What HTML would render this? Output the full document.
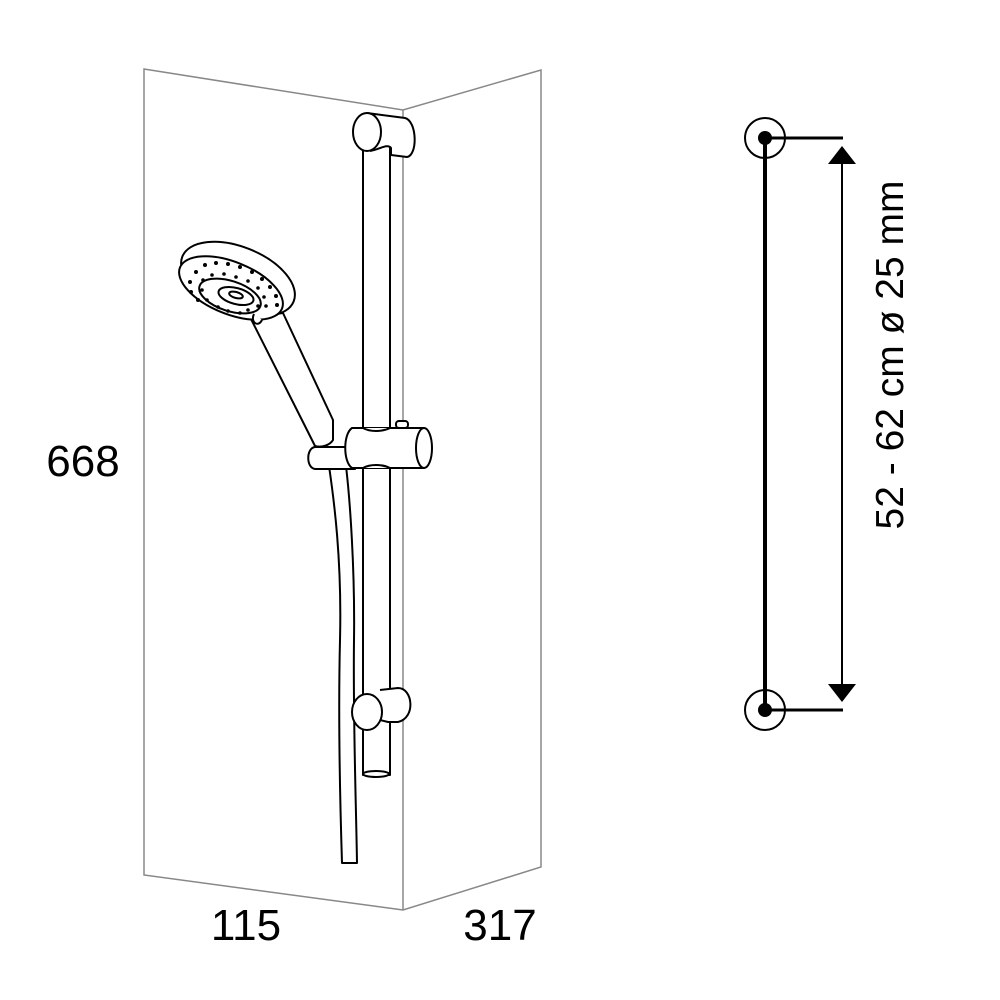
<!DOCTYPE html>
<html><head><style>html,body{margin:0;padding:0;background:#fff}svg{display:block}</style></head>
<body>
<svg width="1000" height="1000" viewBox="0 0 1000 1000" xmlns="http://www.w3.org/2000/svg">
<g fill="none" stroke="#888" stroke-width="1.5">
<path d="M144 69 L144 875 L403 910 L541 867 L541 70 L403 110 Z"/>
<path d="M403 110 L403 910"/>
</g>
<g fill="#fff" stroke="#000" stroke-width="2" stroke-linejoin="round">
<!-- hose -->
<path d="M329 466 C334 500 342 560 340 640 C338 720 340 800 342 863 L357 863 C356 800 353 720 354 640 C355 570 350 500 346 466" />
<!-- rail -->
<rect x="363" y="145" width="27" height="630" />
<ellipse cx="376" cy="774" rx="13" ry="3"/>
<!-- top bracket -->
<path d="M367 113 L405 118 C417 121 418 155 407 157 L391 155 L391 148 C388 143 378 150 370 151"/>
<ellipse cx="367" cy="132" rx="14" ry="19"/>
<!-- bottom bracket -->
<path d="M380 690 L398 688 C413 688 416 718 398 722 L388 722 L380 720"/>
<ellipse cx="367" cy="712" rx="15" ry="18"/>
<!-- slider -->
<path d="M315 447 C306 448 306 468 315 469 L355 469 L355 447 Z"/>
<path d="M352 428 L424 428 L424 468 L352 468 C343 462 343 434 352 428 Z"/>
<ellipse cx="424" cy="448" rx="8" ry="20"/>
<rect x="396" y="421" width="12" height="7" rx="3"/>
<path d="M363 428 C370 432 382 432 390 428" />
<path d="M363 468 C370 464 382 464 390 468" />
<!-- handle -->
<path d="M250 317 L307 430 C315 437 330 432 333 420 L283 313 Z"/>
<path d="M307 430 L315 446 C322 448 330 445 333 440 L333 420"/>
<!-- head -->
<ellipse cx="238" cy="279" rx="60" ry="32" transform="rotate(22 238 279)"/>
<ellipse cx="231" cy="288" rx="55" ry="26" transform="rotate(22 231 288)"/>
<ellipse cx="230" cy="296" rx="32" ry="15" transform="rotate(18 230 296)"/>
<ellipse cx="236" cy="296" rx="18" ry="8" transform="rotate(15 236 296)"/>
<ellipse cx="236" cy="295" rx="7" ry="3" transform="rotate(15 236 295)"/>
<path d="M254 314 C250 322 258 328 262 320"/>
</g>
<g fill="#000">
<circle cx="196" cy="272" r="2"/><circle cx="205" cy="265" r="2"/><circle cx="216" cy="263" r="2"/><circle cx="228" cy="264" r="2"/><circle cx="240" cy="267" r="2"/><circle cx="252" cy="272" r="2"/><circle cx="262" cy="279" r="2"/><circle cx="270" cy="287" r="2"/><circle cx="276" cy="296" r="2"/><circle cx="277" cy="305" r="2"/><circle cx="190" cy="282" r="2"/><circle cx="191" cy="292" r="2"/><circle cx="198" cy="300" r="2"/>
<circle cx="203" cy="280" r="1.8"/><circle cx="212" cy="275" r="1.8"/><circle cx="224" cy="274" r="1.8"/><circle cx="236" cy="277" r="1.8"/><circle cx="248" cy="281" r="1.8"/><circle cx="258" cy="288" r="1.8"/><circle cx="264" cy="297" r="1.8"/><circle cx="266" cy="306" r="1.8"/><circle cx="202" cy="290" r="1.8"/><circle cx="207" cy="300" r="1.8"/>
<circle cx="248" cy="310" r="1.8"/><circle cx="240" cy="313" r="1.8"/><circle cx="228" cy="311" r="1.8"/><circle cx="218" cy="307" r="1.8"/><circle cx="258" cy="306" r="1.8"/>
</g>
<!-- right figure -->
<g stroke="#000" fill="none">
<circle cx="765" cy="138" r="20" stroke-width="2"/>
<circle cx="765" cy="710" r="20" stroke-width="2"/>
<path d="M765 138 L765 710" stroke-width="4"/>
<path d="M765 138 L843 138 M765 710 L843 710" stroke-width="3"/>
<path d="M842 160 L842 690" stroke-width="2"/>
</g>
<g fill="#000">
<circle cx="765" cy="138" r="7"/><circle cx="765" cy="710" r="7"/>
<path d="M842 146 L856 164 L828 164 Z"/>
<path d="M842 702 L856 684 L828 684 Z"/>
</g>
<g font-family="Liberation Sans, sans-serif" fill="#000">
<text x="83" y="476" font-size="44" text-anchor="middle">668</text>
<text x="246" y="940" font-size="44" text-anchor="middle">115</text>
<text x="500" y="940" font-size="44" text-anchor="middle">317</text>
<text transform="translate(903 355) rotate(-90)" font-size="39" text-anchor="middle">52 - 62 cm ø 25 mm</text>
</g>
</svg>
</body></html>
